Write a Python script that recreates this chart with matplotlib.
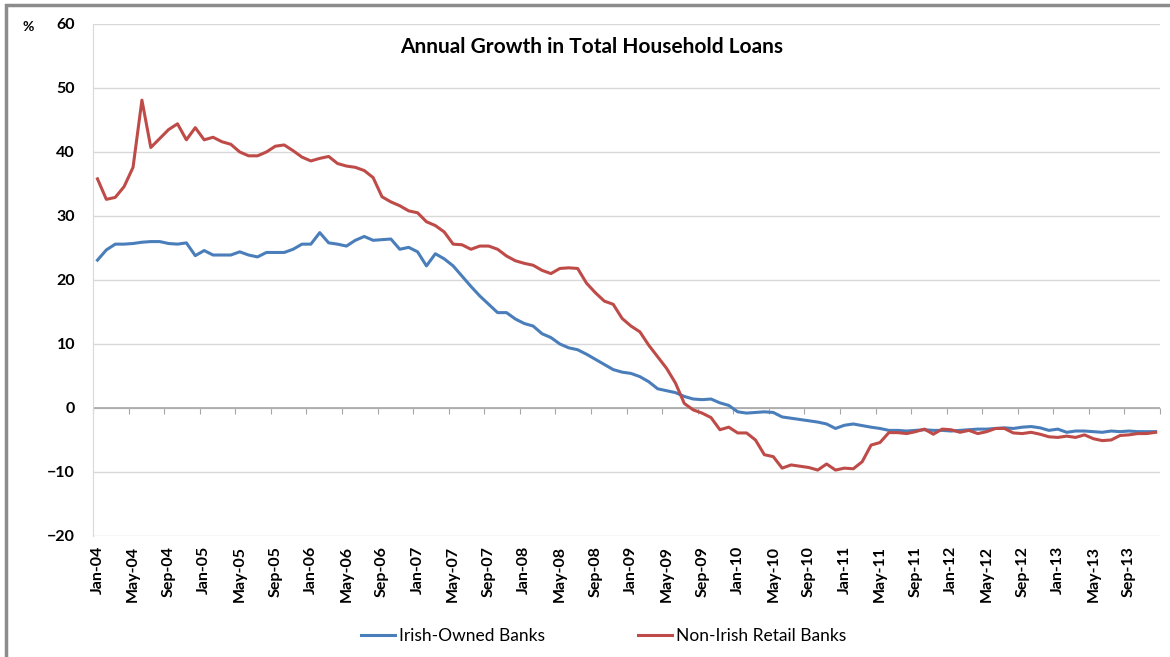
import numpy as np
import pandas as pd
import matplotlib
matplotlib.use("Agg")
import matplotlib.pyplot as plt
from matplotlib.patches import Rectangle

plt.rcParams['font.family'] = ['Lato', 'DejaVu Sans']

# monthly, Jan-04 .. Dec-13
months = pd.date_range("2004-01-01", "2013-12-01", freq="MS")
month_labels = [m.strftime("%b-%y") for m in months]

irish_owned = [
    23.1, 24.7, 25.6, 25.6, 25.7, 25.9, 26.0, 26.0, 25.7, 25.6,
    25.8, 23.8, 24.6, 23.9, 23.9, 23.9, 24.4, 23.9, 23.6, 24.3,
    24.3, 24.3, 24.8, 25.6, 25.6, 27.4, 25.8, 25.6, 25.3, 26.2,
    26.8, 26.2, 26.3, 26.4, 24.8, 25.1, 24.4, 22.2, 24.1, 23.3,
    22.2, 20.6, 19.0, 17.5, 16.2, 14.9, 14.9, 13.9, 13.2, 12.8,
    11.6, 11.0, 10.0, 9.4, 9.1, 8.4, 7.6, 6.8, 6.0, 5.6,
    5.4, 4.9, 4.1, 3.0, 2.7, 2.4, 1.8, 1.4, 1.3, 1.4,
    0.8, 0.4, -0.6, -0.8, -0.7, -0.6, -0.7, -1.4, -1.6, -1.8,
    -2.0, -2.2, -2.5, -3.2, -2.7, -2.5, -2.75, -3.0, -3.2, -3.5,
    -3.5, -3.6, -3.5, -3.4, -3.5, -3.5, -3.6, -3.5, -3.4, -3.3,
    -3.3, -3.2, -3.1, -3.2, -3.0, -2.9, -3.1, -3.5, -3.3, -3.8,
    -3.6, -3.6, -3.7, -3.8, -3.6, -3.7, -3.6, -3.7, -3.7, -3.7,
]

non_irish_retail = [
    35.8, 32.6, 32.9, 34.6, 37.6, 48.1, 40.7, 42.1, 43.5, 44.4,
    41.9, 43.8, 41.9, 42.3, 41.6, 41.2, 40.0, 39.4, 39.4, 40.0,
    40.9, 41.1, 40.2, 39.2, 38.6, 39.0, 39.3, 38.2, 37.8, 37.6,
    37.1, 36.0, 33.0, 32.2, 31.6, 30.8, 30.5, 29.1, 28.5, 27.5,
    25.6, 25.5, 24.8, 25.3, 25.3, 24.8, 23.75, 23.0, 22.6, 22.3,
    21.5, 21.0, 21.8, 21.9, 21.8, 19.5, 18.0, 16.7, 16.2, 14.0,
    12.8, 11.9, 9.8, 8.0, 6.2, 3.9, 0.7, -0.3, -0.8, -1.5,
    -3.4, -3.0, -3.9, -3.9, -5.0, -7.3, -7.6, -9.4, -8.9, -9.1,
    -9.3, -9.7, -8.75, -9.7, -9.4, -9.5, -8.4, -5.8, -5.4, -3.85,
    -3.85, -4.0, -3.7, -3.3, -4.1, -3.3, -3.4, -3.8, -3.5, -4.0,
    -3.7, -3.2, -3.2, -3.9, -4.0, -3.8, -4.1, -4.5, -4.6, -4.4,
    -4.6, -4.2, -4.8, -5.1, -5.0, -4.3, -4.2, -4.0, -4.0, -3.8,
]

blue = "#4a7ebb"
red = "#be4b48"

fig = plt.figure(figsize=(11.7, 6.57), dpi=100)
ax = fig.add_axes([0.0795, 0.1842, 0.912, 0.7793])

x = np.arange(len(months))
ax.plot(x, irish_owned, color=blue, lw=2.2, label="Irish-Owned Banks")
ax.plot(x, non_irish_retail, color=red, lw=2.2, label="Non-Irish Retail Banks")

ax.set_xlim(-0.5, len(months) - 0.5)
ax.set_ylim(-20, 60)
ax.set_yticks(np.arange(-20, 61, 10))
ax.grid(axis="y", color="#d9d9d9", lw=1.0)
ax.set_axisbelow(True)
ax.axhline(0, color="#a6a6a6", lw=1.2, zorder=1)

for s in ["top", "right", "bottom"]:
    ax.spines[s].set_visible(False)
ax.spines["left"].set_color("#d9d9d9")

ax.tick_params(axis="y", length=0, pad=13, labelsize=11.5)
for t in ax.get_yticklabels():
    t.set_fontweight("bold")

# category labels every 4 months, below the plot area
ax.set_xticks(x[::4])
ax.set_xticklabels(month_labels[::4], rotation=90, fontsize=11.5, fontweight="bold")
ax.tick_params(axis="x", length=0, pad=7)

# tick marks on the zero line, between categories
sec = ax.secondary_xaxis(0.25)
sec.set_xticks(np.arange(-0.5, len(months), 4))
sec.set_xticklabels([])
sec.tick_params(axis="x", length=4, color="#a6a6a6", direction="out")
sec.spines["bottom"].set_visible(False)

fig.text(0.506, 0.928, "Annual Growth in Total Household Loans",
         ha="center", va="center", fontsize=15, fontweight="bold")
fig.text(0.024, 0.959, "%", ha="center", va="center", fontsize=10, fontweight="bold")

fig.legend(loc="center", bbox_to_anchor=(0.516, 0.032), ncol=2, frameon=False,
           fontsize=12.5, handlelength=1.95, handletextpad=0.2, columnspacing=5.4)

fig.patches.append(Rectangle((0.005, -0.1), 1.1, 1.0924, transform=fig.transFigure,
                             fill=False, edgecolor="#8c8c8c", lw=2.5))

fig.savefig("out.png")
